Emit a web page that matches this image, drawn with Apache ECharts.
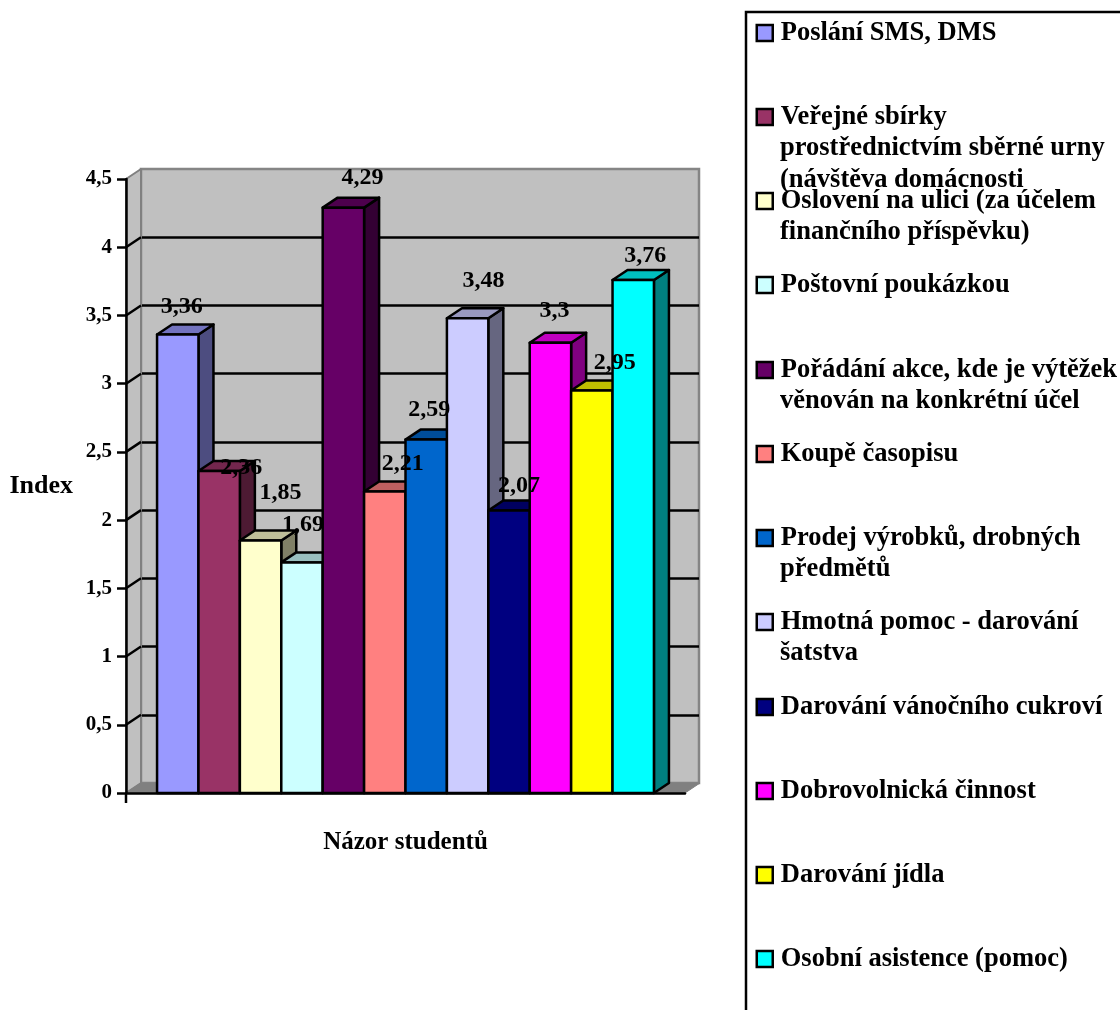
<!DOCTYPE html>
<html><head><meta charset="utf-8">
<style>html,body{margin:0;padding:0;background:#fff}#c{width:1120px;height:1010px}</style>
<script src="https://cdn.jsdelivr.net/npm/echarts@6/dist/echarts.min.js"></script>
</head><body><div id="c"></div>
<script>
const category = ['Názor studentů'];
const names = [
  'Poslání SMS, DMS',
  'Veřejné sbírky prostřednictvím sběrné urny (návštěva domácnosti',
  'Oslovení na ulici (za účelem finančního příspěvku)',
  'Poštovní poukázkou',
  'Pořádání akce, kde je výtěžek věnován na konkrétní účel',
  'Koupě časopisu',
  'Prodej výrobků, drobných předmětů',
  'Hmotná pomoc - darování šatstva',
  'Darování vánočního cukroví',
  'Dobrovolnická činnost',
  'Darování jídla',
  'Osobní asistence (pomoc)'
];
const legendLines = [
  ['Poslání SMS, DMS'],
  ['Veřejné sbírky','prostřednictvím sběrné urny','(návštěva domácnosti'],
  ['Oslovení na ulici (za účelem','finančního příspěvku)'],
  ['Poštovní poukázkou'],
  ['Pořádání akce, kde je výtěžek','věnován na konkrétní účel'],
  ['Koupě časopisu'],
  ['Prodej výrobků, drobných','předmětů'],
  ['Hmotná pomoc - darování','šatstva'],
  ['Darování vánočního cukroví'],
  ['Dobrovolnická činnost'],
  ['Darování jídla'],
  ['Osobní asistence (pomoc)']
];
const values = [3.36,2.36,1.85,1.69,4.29,2.21,2.59,3.48,2.07,3.3,2.95,3.76];
const colors = ['#9999FF','#993366','#FFFFCC','#CCFFFF','#660066','#FF8080','#0066CC','#CCCCFF','#000080','#FF00FF','#FFFF00','#00FFFF'];
const labelDx = [4,22,20,1,19,18,3,16,10,4,23,12];
const labelDy = [-28,-3,-48,-38,-30,-28,-30,-37,-25,-32,-28,-24];
const legendY = [31,115,199,283,368,452,536,620,705,789,873,957];
const yTicks = [0,0.5,1,1.5,2,2.5,3,3.5,4,4.5];
const DX = 15, DY = -10, GAP_UNITS = 1.5;
const FONT = '"Liberation Serif","Times New Roman",serif';
const LEGEND_FS = 26.5, LEGEND_LH = 31.5;

function shade(hex, k){
  const n = parseInt(hex.slice(1),16);
  const c = s => Math.round(((n>>s)&255)*k);
  return 'rgb('+c(16)+','+c(8)+','+c(0)+')';
}
const barStyle = fill => ({fill, stroke:'#000', lineWidth:2.5, lineJoin:'round'});

function barItem(i){
  return function(params, api){
    const center = api.coord([api.value(0), 0]);
    const band = api.size([1,0])[0];
    const w = band/(values.length+GAP_UNITS);
    const x0 = center[0]-band/2+w*(GAP_UNITS/2+i), x1 = x0+w;
    const yb = center[1], yt = api.coord([api.value(0), api.value(1)])[1];
    return {type:'group', children:[
      {type:'polygon', shape:{points:[[x1,yt],[x1+DX,yt+DY],[x1+DX,yb+DY],[x1,yb]]}, style:barStyle(shade(colors[i],0.5))},
      {type:'polygon', shape:{points:[[x0,yt],[x0+DX,yt+DY],[x1+DX,yt+DY],[x1,yt]]}, style:barStyle(shade(colors[i],0.75))},
      {type:'rect', shape:{x:x0,y:yt,width:w,height:yb-yt}, style:barStyle(colors[i])}
    ]};
  };
}
const frameItem = function(params, api){
  const c0 = api.coord([0,0]), band = api.size([1,0])[0];
  const xl = c0[0]-band/2, xr = c0[0]+band/2, yb = c0[1];
  const yt = api.coord([0,yTicks[yTicks.length-1]])[1];
  const kids = [
    {type:'polygon', shape:{points:[[xl,yt],[xl+DX,yt+DY],[xl+DX,yb+DY],[xl,yb]]}, style:{fill:'#C0C0C0', stroke:'#808080', lineWidth:2, lineJoin:'round'}},
    {type:'polygon', shape:{points:[[xl,yb],[xl+DX,yb+DY],[xr+DX,yb+DY],[xr,yb]]}, style:{fill:'#808080', stroke:'#808080', lineWidth:1, lineJoin:'round'}},
    {type:'line', shape:{x1:xl,y1:yb,x2:xl,y2:yb+10}, style:{stroke:'#000', lineWidth:2.5}}
  ];
  yTicks.slice(1,-1).forEach(v=>{
    const y = api.coord([0,v])[1];
    kids.push({type:'line', shape:{x1:xl,y1:y,x2:xl+DX,y2:y+DY}, style:{stroke:'#000', lineWidth:2.5}});
  });
  return {type:'group', children:kids};
};
const labelItem = function(params, api){
  const i = params.dataIndex;
  const p = api.coord([api.value(0), api.value(1)]);
  const band = api.size([1,0])[0];
  const w = band/(values.length+GAP_UNITS);
  const xc = p[0]-band/2+w*(GAP_UNITS/2+i+0.5);
  return {type:'text', style:{
    text:String(values[i]).replace('.',','),
    x:xc+labelDx[i], y:p[1]+labelDy[i],
    align:'center', verticalAlign:'middle',
    font:'bold 24px '+FONT, fill:'#000'
  }};
};

const series = [
  {type:'custom', name:'frame', z:1, silent:true, xAxisIndex:0, yAxisIndex:0, renderItem:frameItem,
   encode:{x:0,y:1}, data:[[category[0],0]]}
];
names.forEach((n,i)=>series.push({
  type:'custom', name:n, z:2, xAxisIndex:0, yAxisIndex:0, renderItem:barItem(i),
  itemStyle:{color:colors[i]}, encode:{x:0,y:1}, data:[[category[0],values[i]]]
}));
series.push({type:'custom', name:'labels', z:10, silent:true, xAxisIndex:0, yAxisIndex:0, renderItem:labelItem,
  encode:{x:0,y:1}, data:values.map(v=>[category[0],v])});

const legends = names.map((n,i)=>({
  data:[n], left:755.5, top:legendY[i]-15, padding:0, icon:'rect',
  itemWidth:16, itemHeight:16, selectedMode:false,
  itemStyle:{borderColor:'#000', borderWidth:2.5},
  formatter:()=>legendLines[i][0],
  textStyle:{fontFamily:FONT, fontWeight:'bold', fontSize:LEGEND_FS, color:'#000', lineHeight:30, padding:[4,0,0,3]}
}));

const graphics = [{type:'rect', silent:true, z:0, shape:{x:746,y:12,width:600,height:1200}, style:{fill:'none',stroke:'#000',lineWidth:2.5}}];
legendLines.forEach((ls,i)=>ls.slice(1).forEach((t,j)=>graphics.push({
  type:'text', silent:true, x:780, y:legendY[i]+2+(j+1)*LEGEND_LH,
  style:{text:t, font:'bold '+LEGEND_FS+'px '+FONT, fill:'#000', verticalAlign:'middle', align:'left'}
})));

const chart = echarts.init(document.getElementById('c'), null, {renderer:'canvas'});
chart.setOption({
  animation:false,
  backgroundColor:'#fff',
  grid:[
    {left:126, right:435, top:179, bottom:217, containLabel:false, outerBoundsMode:'none'},
    {left:141, right:421, top:169, bottom:227, outerBoundsMode:'none', show:true, backgroundColor:'#C0C0C0', borderColor:'#858585', borderWidth:2.5}
  ],
  xAxis:[
    {type:'category', gridIndex:0, data:category, z:5,
     axisLine:{lineStyle:{color:'#000',width:2.5}}, axisTick:{show:false},
     axisLabel:{margin:37, fontFamily:FONT, fontWeight:'bold', fontSize:25, color:'#000'}},
    {type:'category', gridIndex:1, data:category, show:false}
  ],
  yAxis:[
    {type:'value', gridIndex:0, min:0, max:4.5, interval:0.5, z:5,
     name:'Index', nameLocation:'middle', nameRotate:0, nameGap:53,
     nameTextStyle:{fontFamily:FONT, fontWeight:'bold', fontSize:26, color:'#000'},
     axisLine:{show:true, lineStyle:{color:'#000',width:2.5}},
     axisTick:{show:true, length:9, lineStyle:{color:'#000',width:2.5}},
     splitLine:{show:false},
     axisLabel:{margin:14, fontFamily:FONT, fontWeight:'bold', fontSize:21, color:'#000',
       formatter:v=>String(v).replace('.',',')}},
    {type:'value', gridIndex:1, min:0, max:4.5, interval:0.5,
     axisLine:{show:false}, axisTick:{show:false}, axisLabel:{show:false},
     splitLine:{show:true, showMinLine:false, showMaxLine:false, lineStyle:{color:'#000',width:2.5}}}
  ],
  legend:legends,
  graphic:graphics,
  tooltip:{show:false},
  series
});
</script></body></html>
